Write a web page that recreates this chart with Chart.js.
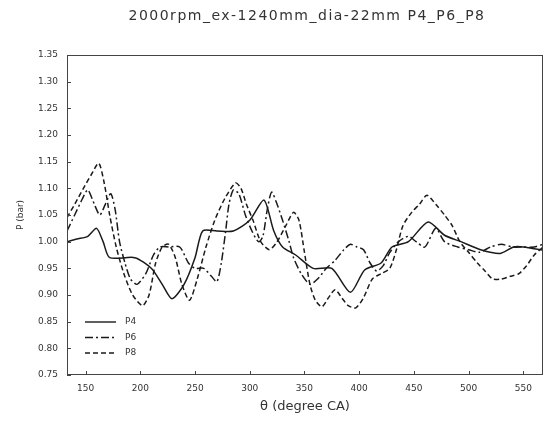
<!DOCTYPE html>
<html>
<head>
<meta charset="utf-8">
<script src="https://cdn.jsdelivr.net/npm/chart.js@4/dist/chart.umd.min.js"></script>
<style>
  html, body { margin: 0; padding: 0; background: #fff; }
  #wrap { width: 544px; height: 428px; }
</style>
</head>
<body>
<div id="wrap"><canvas id="chart" width="544" height="428"></canvas></div>
<script>
const chartTitle = "2000rpm_ex-1240mm_dia-22mm P4_P6_P8";
const xTicks = [150, 200, 250, 300, 350, 400, 450, 500, 550];
const yTicks = [0.75, 0.80, 0.85, 0.90, 0.95, 1.00, 1.05, 1.10, 1.15, 1.20, 1.25, 1.30, 1.35];

const p4Theta = [133, 142, 152, 160, 166, 172, 195, 210, 220, 229, 240, 250, 257, 270, 285, 300, 313, 322, 330, 342, 358, 375, 392, 405, 420, 430, 445, 463, 478, 493, 511, 529, 541, 550, 568];
const p4Values = [1.00, 1.005, 1.01, 1.025, 1.00, 0.97, 0.97, 0.95, 0.92, 0.893, 0.92, 0.97, 1.02, 1.02, 1.02, 1.04, 1.078, 1.02, 0.99, 0.975, 0.95, 0.95, 0.905, 0.947, 0.96, 0.99, 1.00, 1.037, 1.012, 1.00, 0.985, 0.978, 0.99, 0.99, 0.984];

const p6Theta = [133, 140, 147, 152, 158, 163, 168, 173, 177, 181, 186, 191, 197, 205, 212, 218, 226, 236, 244, 250, 258, 265, 270, 274, 278, 281, 285, 290, 296, 302, 308, 312, 316, 320, 325, 330, 336, 340, 347, 355, 362, 370, 378, 386, 392, 398, 404, 410, 416, 422, 428, 436, 445, 452, 460, 470, 478, 490, 500, 510, 520, 530, 540, 550, 560, 568];
const p6Values = [1.02, 1.05, 1.08, 1.097, 1.07, 1.05, 1.07, 1.09, 1.06, 1.00, 0.96, 0.93, 0.92, 0.94, 0.975, 0.99, 0.99, 0.99, 0.96, 0.95, 0.95, 0.935, 0.925, 0.96, 1.02, 1.07, 1.097, 1.09, 1.05, 1.02, 1.00, 1.01, 1.06, 1.093, 1.07, 1.04, 1.00, 0.97, 0.94, 0.92, 0.93, 0.95, 0.965, 0.985, 0.995, 0.99, 0.985, 0.96, 0.945, 0.955, 0.98, 1.00, 1.01, 1.00, 0.99, 1.025, 1.00, 0.99, 0.985, 0.98, 0.99, 0.995, 0.99, 0.99, 0.99, 0.995];

const p8Theta = [133, 140, 148, 155, 162, 167, 172, 178, 185, 193, 202, 208, 214, 220, 226, 232, 238, 245, 252, 260, 268, 277, 287, 292, 297, 303, 310, 318, 325, 333, 340, 345, 350, 355, 360, 366, 372, 378, 384, 390, 397, 404, 412, 420, 428, 434, 440, 448, 455, 462, 470, 478, 485, 492, 500, 508, 515, 522, 530, 538, 546, 553, 560, 568];
const p8Values = [1.045, 1.07, 1.10, 1.125, 1.147, 1.11, 1.05, 0.99, 0.94, 0.90, 0.88, 0.90, 0.96, 0.99, 0.995, 0.97, 0.92, 0.89, 0.93, 0.99, 1.04, 1.08, 1.11, 1.10, 1.07, 1.04, 1.00, 0.985, 1.00, 1.03, 1.055, 1.04, 0.98, 0.92, 0.89, 0.878, 0.895, 0.91, 0.895, 0.88, 0.876, 0.895, 0.93, 0.94, 0.95, 0.985, 1.03, 1.055, 1.07, 1.087, 1.07, 1.05, 1.03, 1.00, 0.98, 0.96, 0.945, 0.93, 0.93, 0.935, 0.94, 0.955, 0.975, 0.99];

const ink = "#1a1a1a";
const textColor = "#333";

function points(xs, ys) {
  return xs.map((x, i) => ({ x: x, y: ys[i] }));
}

function makeSeries(label, xs, ys, dash) {
  return {
    label: label,
    data: points(xs, ys),
    borderColor: ink,
    borderWidth: 1.5,
    borderDash: dash,
    pointRadius: 0,
    tension: 0.25,
    fill: false,
  };
}

// title with wide letter spacing, box, axis ticks and the in-plot legend
const frameAndLegend = {
  id: "frameAndLegend",
  afterDraw(chart) {
    const { ctx, chartArea } = chart;
    ctx.save();
    ctx.font = "14px 'DejaVu Sans'";
    ctx.fillStyle = textColor;
    ctx.textAlign = "center";
    ctx.textBaseline = "middle";
    if ("letterSpacing" in ctx) ctx.letterSpacing = "1.5px";
    ctx.fillText(chartTitle, 307, 16);
    if ("letterSpacing" in ctx) ctx.letterSpacing = "0px";
    ctx.restore();
  },
  afterDatasetsDraw(chart) {
    const { ctx, chartArea } = chart;
    ctx.save();
    ctx.strokeStyle = "#444";
    ctx.lineWidth = 1;
    ctx.setLineDash([]);
    ctx.strokeRect(chartArea.left + 0.5, chartArea.top + 0.5,
      chartArea.right - chartArea.left - 1, chartArea.bottom - chartArea.top - 1);

    const xs = chart.scales.x, ys = chart.scales.y;
    ctx.beginPath();
    xTicks.forEach(v => {
      const px = Math.round(xs.getPixelForValue(v)) + 0.5;
      ctx.moveTo(px, chartArea.bottom);
      ctx.lineTo(px, chartArea.bottom - 4);
    });
    yTicks.forEach(v => {
      const py = Math.round(ys.getPixelForValue(v)) + 0.5;
      ctx.moveTo(chartArea.left, py);
      ctx.lineTo(chartArea.left + 4, py);
    });
    ctx.stroke();

    ctx.font = "9px 'DejaVu Sans'";
    ctx.fillStyle = textColor;
    ctx.textBaseline = "middle";
    chart.data.datasets.forEach((ds, i) => {
      const y = chartArea.bottom - 53 + i * 15.5;
      ctx.beginPath();
      ctx.strokeStyle = ink;
      ctx.lineWidth = 1.4;
      ctx.setLineDash(ds.borderDash || []);
      ctx.moveTo(chartArea.left + 18, y);
      ctx.lineTo(chartArea.left + 49, y);
      ctx.stroke();
      ctx.fillText(ds.label, chartArea.left + 58, y);
    });
    ctx.restore();
  },
};

new Chart(document.getElementById("chart"), {
  type: "line",
  data: {
    datasets: [
      makeSeries("P4", p4Theta, p4Values, []),
      makeSeries("P6", p6Theta, p6Values, [8, 3, 2, 3]),
      makeSeries("P8", p8Theta, p8Values, [5, 3]),
    ],
  },
  options: {
    responsive: false,
    animation: false,
    layout: { padding: { left: 0, right: 1, top: 55, bottom: 0 } },
    scales: {
      x: {
        type: "linear",
        min: 133,
        max: 568,
        afterBuildTicks: (scale) => { scale.ticks = xTicks.map(v => ({ value: v })); },
        afterFit: (scale) => { scale.height = 53; },
        grid: { display: false, drawTicks: false },
        border: { display: false },
        ticks: { color: textColor, font: { family: "DejaVu Sans", size: 9 }, padding: 8, maxRotation: 0 },
        title: {
          display: true,
          text: "θ (degree CA)",
          color: textColor,
          font: { family: "DejaVu Sans", size: 13 },
          padding: { top: 0, bottom: 14 },
        },
      },
      y: {
        min: 0.75,
        max: 1.35,
        afterBuildTicks: (scale) => { scale.ticks = yTicks.map(v => ({ value: v })); },
        afterFit: (scale) => { scale.width = 67; },
        grid: { display: false, drawTicks: false },
        border: { display: false },
        ticks: {
          color: textColor,
          font: { family: "DejaVu Sans", size: 9 },
          padding: 9,
          callback: (v) => v.toFixed(2),
        },
        title: {
          display: true,
          text: "P (bar)",
          color: textColor,
          font: { family: "DejaVu Sans", size: 9 },
          padding: { top: 15, bottom: 0 },
        },
      },
    },
    plugins: {
      legend: { display: false },
      tooltip: { enabled: false },
      title: { display: false },
    },
  },
  plugins: [frameAndLegend],
});
</script>
</body>
</html>
